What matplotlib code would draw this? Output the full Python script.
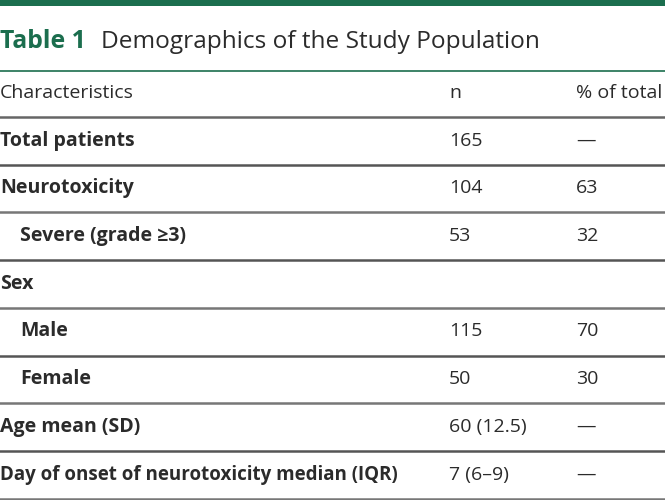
import matplotlib
matplotlib.use("Agg")
import matplotlib.pyplot as plt

# table content
labels = ["Total patients", "Neurotoxicity", "Severe (grade \u22653)", "Sex", "Male",
          "Female", "Age mean (SD)", "Day of onset of neurotoxicity median (IQR)"]
n_vals = ["165", "104", "53", "", "115", "50", "60 (12.5)", "7 (6\u20139)"]
pct_vals = ["\u2014", "63", "32", "", "70", "30", "\u2014", "\u2014"]
indented = [False, False, True, False, True, True, False, False]
header = ["Characteristics", "n", "% of total"]

green = "#1b6e4e"
txt = "#2b2b2b"
plt.rcParams['font.family'] = ['Open Sans', 'DejaVu Sans']

fig = plt.figure(figsize=(6.65, 5.0), dpi=100)
ax = fig.add_axes([0, 0, 1, 1])
ax.set_xlim(0, 665)
ax.set_ylim(500, 0)
ax.axis("off")

# top bar
ax.axhspan(0, 6, color=green, lw=0)

ax.text(0, 42, "Table 1", color=green, fontsize=17.8, fontweight="bold", va="center")
ax.text(101, 42, "Demographics of the Study Population", color=txt, fontsize=17.6, va="center")

ax.axhline(71, color=green, lw=1.2)
col_x = [0, 449, 576]
for x, h in zip(col_x, header):
    ax.text(x, 93, h, fontsize=14, color=txt, va="center")
head_line = 117
ax.axhline(head_line, color="#666666", lw=1.8)

row_h = 47.7
for i, lab in enumerate(labels):
    line_y = head_line + (i + 1) * row_h
    y = line_y - 24
    fs = 13.5 if i == len(labels) - 1 else 14
    ax.text(20 if indented[i] else 0, y, lab, fontsize=fs, fontweight="bold",
            color=txt, va="center")
    ax.text(col_x[1], y, n_vals[i], fontsize=14, color=txt, va="center")
    ax.text(col_x[2], y, pct_vals[i], fontsize=14, color=txt, va="center")
    ax.axhline(line_y, color="#555555" if i % 2 == 0 else "#777777", lw=1.8)

fig.savefig("out.png", dpi=100)
